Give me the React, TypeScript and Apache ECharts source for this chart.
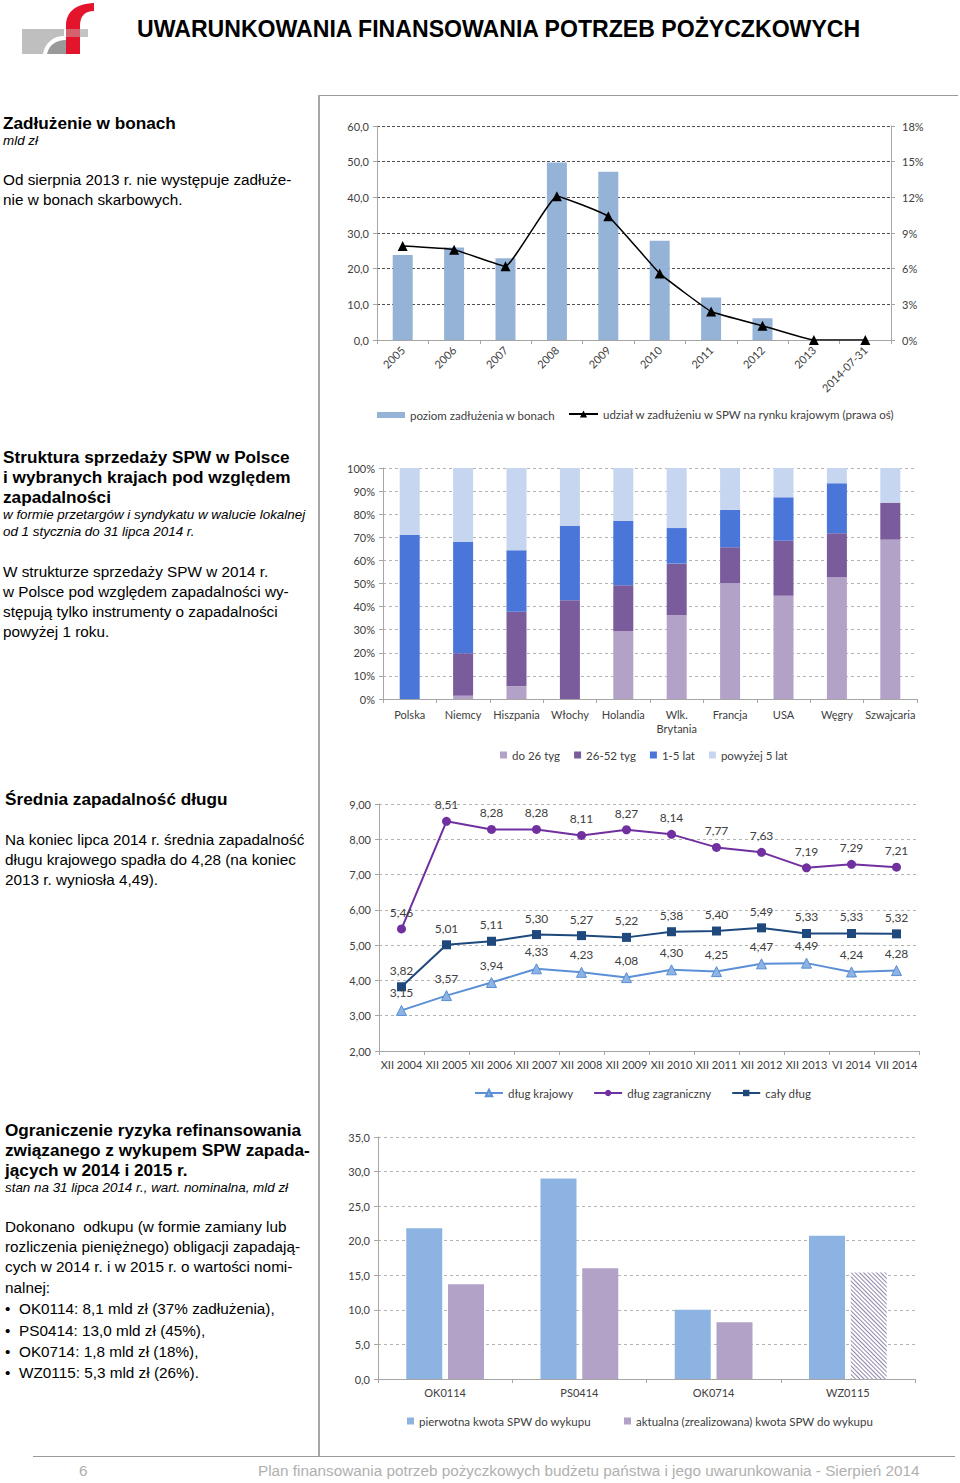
import React, { useEffect, useRef } from 'react';
import * as echarts from 'echarts';

const FONT = 'Lato, "Open Sans", sans-serif';
const PAGE_FONT = '"Liberation Sans", Arial, sans-serif';
const TXT = '#404040';
const comma = (d: number) => (v: any) => Number(v).toFixed(d).replace('.', ',');

// ---------- Chart 1: Zadłużenie w bonach ----------
const billYears = ['2005', '2006', '2007', '2008', '2009', '2010', '2011', '2012', '2013', '2014-07-31'];
const billDebt = [23.8, 25.9, 22.9, 49.8, 47.2, 27.8, 11.9, 6.1, 0, 0];
const billShare = [7.9, 7.6, 6.2, 12.1, 10.4, 5.6, 2.4, 1.2, 0, 0];

// ---------- Chart 2: Struktura sprzedaży SPW ----------
const countries = ['Polska', 'Niemcy', 'Hiszpania', 'Włochy', 'Holandia', 'Wlk.\nBrytania', 'Francja', 'USA', 'Węgry', 'Szwajcaria'];
const upTo26w = [0, 1.4, 5.6, 0, 29.3, 36.4, 50.2, 44.7, 52.7, 69.0];
const w26to52 = [0, 18.4, 32.2, 42.7, 19.9, 22.2, 15.5, 23.8, 19.0, 16.0];
const y1to5 = [71.0, 48.2, 26.6, 32.2, 28.0, 15.4, 16.2, 18.8, 21.7, 0];
const over5y = [29.0, 32.0, 35.6, 25.1, 22.8, 26.0, 18.1, 12.7, 6.6, 15.0];

// ---------- Chart 3: Średnia zapadalność długu ----------
const maturityDates = ['XII 2004', 'XII 2005', 'XII 2006', 'XII 2007', 'XII 2008', 'XII 2009', 'XII 2010', 'XII 2011', 'XII 2012', 'XII 2013', 'VI 2014', 'VII 2014'];
const domesticMat = [3.15, 3.57, 3.94, 4.33, 4.23, 4.08, 4.30, 4.25, 4.47, 4.49, 4.24, 4.28];
const foreignMat = [5.46, 8.51, 8.28, 8.28, 8.11, 8.27, 8.14, 7.77, 7.63, 7.19, 7.29, 7.21];
const totalMat = [3.82, 5.01, 5.11, 5.30, 5.27, 5.22, 5.38, 5.40, 5.49, 5.33, 5.33, 5.32];

// ---------- Chart 4: Ograniczenie ryzyka refinansowania ----------
const bonds = ['OK0114', 'PS0414', 'OK0714', 'WZ0115'];
const originalAmt = [21.8, 29.0, 10.0, 20.7];
const currentAmt = [13.7, 16.0, 8.2, 15.4];

const lbl = { color: TXT, fontSize: 11, fontFamily: FONT };
const legLbl = { color: TXT, fontSize: 11.5, fontFamily: FONT };
const grayAxis = { lineStyle: { color: '#a6a6a6', width: 1 } };
const tick = { show: true, length: 4, lineStyle: { color: '#a6a6a6' } };
const lightSplit = { show: true, lineStyle: { color: '#b4b4b4', type: [3, 3], width: 1 } };

const option1: any = {
  animation: false,
  textStyle: { fontFamily: FONT },
  grid: { left: 47, top: 16, width: 514, height: 214 },
  legend: [
    { left: 47, top: 299, padding: 0, itemWidth: 28, itemHeight: 6, textStyle: legLbl, data: [{ name: 'poziom zadłużenia w bonach', icon: 'rect' }] },
    { left: 238, top: 298, padding: 0, itemWidth: 29, itemHeight: 9, textStyle: legLbl, data: ['udział w zadłużeniu w SPW na rynku krajowym (prawa oś)'] },
  ],
  xAxis: {
    type: 'category', data: billYears,
    axisLine: grayAxis, axisTick: tick,
    axisLabel: { ...lbl, rotate: 45, interval: 0, margin: 8 },
  },
  yAxis: [
    {
      type: 'value', min: 0, max: 60, interval: 10,
      axisLine: { show: true, ...grayAxis }, axisTick: tick,
      axisLabel: { ...lbl, formatter: comma(1), margin: 8 },
      splitLine: { show: true, lineStyle: { color: '#505050', type: [3, 2], width: 1 } },
    },
    {
      type: 'value', min: 0, max: 18, interval: 3, position: 'right',
      axisLine: { show: true, ...grayAxis }, axisTick: tick,
      axisLabel: { ...lbl, formatter: '{value}%', margin: 11 },
      splitLine: { show: false },
    },
  ],
  series: [
    { name: 'poziom zadłużenia w bonach', type: 'bar', data: billDebt, barWidth: 20, itemStyle: { color: '#95b3d7' } },
    {
      name: 'udział w zadłużeniu w SPW na rynku krajowym (prawa oś)', type: 'line', yAxisIndex: 1, data: billShare,
      smooth: 0.1, symbol: 'triangle', symbolSize: 10,
      lineStyle: { color: '#000', width: 1.5 }, itemStyle: { color: '#000' },
    },
  ],
};

const option2: any = {
  animation: false,
  textStyle: { fontFamily: FONT },
  grid: { left: 53, top: 13, width: 534, height: 231 },
  legend: {
    left: 170, top: 294, padding: 0, itemWidth: 7, itemHeight: 7, itemGap: 14, icon: 'rect', textStyle: legLbl,
    data: ['do 26 tyg', '26-52 tyg', '1-5 lat', 'powyżej 5 lat'],
  },
  xAxis: {
    type: 'category', data: countries,
    axisLine: grayAxis, axisTick: tick,
    axisLabel: { ...lbl, interval: 0, margin: 8, lineHeight: 14 },
  },
  yAxis: {
    type: 'value', min: 0, max: 100, interval: 10,
    axisLine: { show: true, ...grayAxis }, axisTick: tick,
    axisLabel: { ...lbl, formatter: '{value}%', margin: 8 },
    splitLine: lightSplit,
  },
  series: [
    { name: 'do 26 tyg', type: 'bar', stack: 'a', data: upTo26w, barWidth: 20, itemStyle: { color: '#b3a2c7' } },
    { name: '26-52 tyg', type: 'bar', stack: 'a', data: w26to52, barWidth: 20, itemStyle: { color: '#7a5c9c' } },
    { name: '1-5 lat', type: 'bar', stack: 'a', data: y1to5, barWidth: 20, itemStyle: { color: '#4a76da' } },
    { name: 'powyżej 5 lat', type: 'bar', stack: 'a', data: over5y, barWidth: 20, itemStyle: { color: '#c6d6f0' } },
  ],
};

const ptLabel = { show: true, position: 'top', distance: 6, color: TXT, fontSize: 12, fontFamily: FONT, formatter: (p: any) => comma(2)(p.value) };

const option3: any = {
  animation: false,
  textStyle: { fontFamily: FONT },
  grid: { left: 49, top: 14, width: 540, height: 247 },
  legend: {
    left: 144, top: 297, padding: 0, itemWidth: 28, itemHeight: 8, itemGap: 20, textStyle: legLbl,
    data: ['dług krajowy', 'dług zagraniczny', 'cały dług'],
  },
  xAxis: {
    type: 'category', data: maturityDates,
    axisLine: grayAxis, axisTick: tick,
    axisLabel: { ...lbl, interval: 0, margin: 8 },
  },
  yAxis: {
    type: 'value', min: 2, max: 9, interval: 1,
    axisLine: { show: true, ...grayAxis }, axisTick: tick,
    axisLabel: { ...lbl, formatter: comma(2), margin: 8 },
    splitLine: lightSplit,
  },
  series: [
    {
      name: 'dług krajowy', type: 'line', data: domesticMat, symbol: 'triangle', symbolSize: 10,
      lineStyle: { color: '#5b8fd6', width: 2 }, itemStyle: { color: '#8db3e2', borderColor: '#5b8fd6', borderWidth: 1 },
      label: ptLabel,
    },
    {
      name: 'dług zagraniczny', type: 'line', data: foreignMat, symbol: 'circle', symbolSize: 9,
      lineStyle: { color: '#7030a0', width: 2 }, itemStyle: { color: '#7030a0' },
      label: ptLabel,
    },
    {
      name: 'cały dług', type: 'line', data: totalMat, symbol: 'rect', symbolSize: 9,
      lineStyle: { color: '#1f497d', width: 2 }, itemStyle: { color: '#1f497d' },
      label: ptLabel,
    },
  ],
};

const option4: any = {
  animation: false,
  textStyle: { fontFamily: FONT },
  grid: { left: 48, top: 17, width: 537, height: 242 },
  legend: {
    left: 77, top: 295, padding: 0, itemWidth: 7, itemHeight: 7, itemGap: 33, icon: 'rect', textStyle: legLbl,
    data: ['pierwotna kwota SPW do wykupu', 'aktualna (zrealizowana) kwota SPW do wykupu'],
  },
  xAxis: {
    type: 'category', data: bonds,
    axisLine: grayAxis, axisTick: tick,
    axisLabel: { ...lbl, interval: 0, margin: 8 },
  },
  yAxis: {
    type: 'value', min: 0, max: 35, interval: 5,
    axisLine: { show: true, ...grayAxis }, axisTick: tick,
    axisLabel: { ...lbl, formatter: comma(1), margin: 8 },
    splitLine: lightSplit,
  },
  series: [
    { name: 'pierwotna kwota SPW do wykupu', type: 'bar', data: originalAmt, barWidth: 36, barGap: '16%', itemStyle: { color: '#8db3e2' } },
    {
      name: 'aktualna (zrealizowana) kwota SPW do wykupu', type: 'bar', barWidth: 36, barGap: '16%', itemStyle: { color: '#b3a2c7' },
      data: currentAmt.map((v, i) => i === currentAmt.length - 1
        ? {
          value: v,
          itemStyle: {
            color: '#ffffff',
            decal: { symbol: 'rect', symbolSize: 1, color: 'rgba(120,105,150,0.8)', dashArrayX: [1, 0], dashArrayY: [1, 1.5], rotation: Math.PI / 4 },
          },
        }
        : v),
    },
  ],
};

function EChart({ option, left, top, width, height }: any) {
  const ref = useRef<HTMLDivElement>(null);
  useEffect(() => {
    const chart = echarts.init(ref.current as HTMLDivElement, null, { renderer: 'svg' });
    chart.setOption(option);
    return () => chart.dispose();
  }, [option]);
  return <div ref={ref} style={{ position: 'absolute', left, top, width, height }} />;
}

type Line = { t: string; x: number; y: number; s: number; b?: boolean; i?: boolean };

const H = 17.2; // headings
const B = 15.3; // body
const I = 13.4; // italic notes

const textLines: Line[] = [
  { t: 'Zadłużenie w bonach', x: 3, y: 123, s: H, b: true },
  { t: 'mld zł', x: 3, y: 141, s: I, i: true },
  { t: 'Od sierpnia 2013 r. nie występuje zadłuże-', x: 3, y: 180, s: B },
  { t: 'nie w bonach skarbowych.', x: 3, y: 200, s: B },

  { t: 'Struktura sprzedaży SPW w Polsce', x: 3, y: 457, s: H, b: true },
  { t: 'i wybranych krajach pod względem', x: 3, y: 477, s: H, b: true },
  { t: 'zapadalności', x: 3, y: 497, s: H, b: true },
  { t: 'w formie przetargów i syndykatu w walucie lokalnej', x: 3, y: 515, s: I, i: true },
  { t: 'od 1 stycznia do 31 lipca 2014 r.', x: 3, y: 532, s: I, i: true },
  { t: 'W strukturze sprzedaży SPW w 2014 r.', x: 3, y: 572, s: B },
  { t: 'w Polsce pod względem zapadalności wy-', x: 3, y: 592, s: B },
  { t: 'stępują tylko instrumenty o zapadalności', x: 3, y: 612, s: B },
  { t: 'powyżej 1 roku.', x: 3, y: 632, s: B },

  { t: 'Średnia zapadalność długu', x: 5, y: 799, s: H, b: true },
  { t: 'Na koniec lipca 2014 r. średnia zapadalność', x: 5, y: 840, s: B },
  { t: 'długu krajowego spadła do 4,28 (na koniec', x: 5, y: 860, s: B },
  { t: '2013 r. wyniosła 4,49).', x: 5, y: 880, s: B },

  { t: 'Ograniczenie ryzyka refinansowania', x: 5, y: 1130, s: H, b: true },
  { t: 'związanego z wykupem SPW zapada-', x: 5, y: 1150, s: H, b: true },
  { t: 'jących w 2014 i 2015 r.', x: 5, y: 1170, s: H, b: true },
  { t: 'stan na 31 lipca 2014 r., wart. nominalna, mld zł', x: 5, y: 1188, s: I, i: true },
  { t: 'Dokonano  odkupu (w formie zamiany lub', x: 5, y: 1227, s: B },
  { t: 'rozliczenia pieniężnego) obligacji zapadają-', x: 5, y: 1247, s: B },
  { t: 'cych w 2014 r. i w 2015 r. o wartości nomi-', x: 5, y: 1267, s: B },
  { t: 'nalnej:', x: 5, y: 1288, s: B },
];

const bulletLines = [
  { t: 'OK0114: 8,1 mld zł (37% zadłużenia),', y: 1309 },
  { t: 'PS0414: 13,0 mld zł (45%),', y: 1331 },
  { t: 'OK0714: 1,8 mld zł (18%),', y: 1352 },
  { t: 'WZ0115: 5,3 mld zł (26%).', y: 1373 },
];

function T({ t, x, y, s, b, i, color = '#000', font = PAGE_FONT }: any) {
  return (
    <div style={{
      position: 'absolute', left: x, top: y - s * 0.6, height: s * 1.2, lineHeight: `${s * 1.2}px`,
      fontSize: s, fontWeight: b ? 'bold' : 'normal', fontStyle: i ? 'italic' : 'normal',
      fontFamily: font, color, whiteSpace: 'pre',
    }}>{t}</div>
  );
}

function Logo() {
  return (
    <svg style={{ position: 'absolute', left: 0, top: 0 }} width={110} height={60} viewBox="0 0 110 60">
      <path d="M22,29 L64,29 L64,36 C53,36 45,43 43,54 L22,54 Z" fill="#bfbfbf" />
      <path d="M47,54 C49,45 56,40 66,40 L66,54 Z" fill="#9a9a9a" />
      <path d="M66,54 L66,26 C66,12 75,4 94,3 L94,11 C85,11 80,16 80,26 L80,54 Z" fill="#e3142c" />
      <rect x={80} y={29} width={8} height={8} fill="#c4c4c4" />
      <rect x={66} y={29} width={14} height={8} fill="rgba(190,190,190,0.45)" />
    </svg>
  );
}

const FOOT_FONT = '"Liberation Sans Narrow", "Arial Narrow", "Liberation Sans", sans-serif';

export default function App() {
  return (
    <div style={{ position: 'absolute', left: 0, top: 0, width: 960, height: 1483, overflow: 'hidden', background: '#fff' }}>
      <Logo />
      <T t="UWARUNKOWANIA FINANSOWANIA POTRZEB POŻYCZKOWYCH" x={137} y={30} s={23.1} b />
      <div style={{ position: 'absolute', left: 320, top: 95, width: 638, height: 1, background: '#9a9a9a' }} />
      <div style={{ position: 'absolute', left: 318, top: 95, width: 2, height: 1361, background: '#a6a6a6' }} />
      <div style={{ position: 'absolute', left: 33, top: 1456, width: 922, height: 1, background: '#9a9a9a' }} />

      {textLines.map((l, k) => <T key={k} {...l} />)}
      {bulletLines.map((l, k) => (
        <React.Fragment key={'b' + k}>
          <T t="•" x={5} y={l.y} s={B} />
          <T t={l.t} x={19} y={l.y} s={B} />
        </React.Fragment>
      ))}

      <T t="6" x={79} y={1471} s={15.3} color="#b0b0b0" font={FOOT_FONT} />
      <T t="Plan finansowania potrzeb pożyczkowych budżetu państwa i jego uwarunkowania - Sierpień 2014" x={258} y={1471} s={15.3}
        color="#b0b0b0" font={FOOT_FONT} />

      <EChart option={option1} left={330} top={110} width={630} height={320} />
      <EChart option={option2} left={330} top={455} width={630} height={310} />
      <EChart option={option3} left={330} top={790} width={630} height={320} />
      <EChart option={option4} left={330} top={1120} width={630} height={320} />
    </div>
  );
}
